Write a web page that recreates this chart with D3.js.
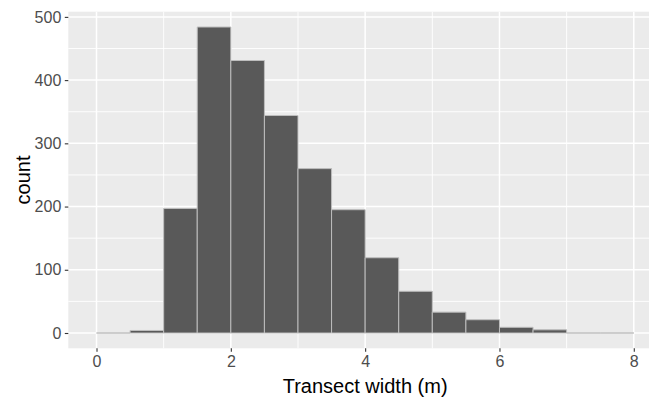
<!DOCTYPE html>
<html>
<head>
<meta charset="utf-8">
<script src="https://cdn.jsdelivr.net/npm/d3@7"></script>
<style>
  body { margin: 0; background: #fff; }
  svg { display: block; font-family: "Liberation Sans", Arial, sans-serif; }
</style>
</head>
<body>
<svg id="chart" width="649" height="398"></svg>
<script>
// histogram bins (left edges, width 0.5) and counts
const binStarts = [0, 0.5, 1, 1.5, 2, 2.5, 3, 3.5, 4, 4.5, 5, 5.5, 6, 6.5, 7, 7.5];
const counts = [0, 4, 197, 484, 431, 344, 260, 195, 119, 66, 33, 21, 9, 5, 0, 0];
const binWidth = 0.5;
const xTicks = [0, 2, 4, 6, 8];
const xMinor = [1, 3, 5, 7];
const yTicks = [0, 100, 200, 300, 400, 500];
const yMinor = [50, 150, 250, 350, 450];

const svg = d3.select('#chart');
const panel = {left: 68.3, right: 662, top: 11.7, bottom: 348.3};

const x = d3.scaleLinear().domain([-0.42, 8.42]).range([panel.left, panel.right]);
const y = d3.scaleLinear().domain([-24.2, 508.2]).range([panel.bottom, panel.top]);

svg.append('rect').attr('width', 649).attr('height', 398).attr('fill', '#fff');

svg.append('rect')
  .attr('x', panel.left).attr('y', panel.top)
  .attr('width', panel.right - panel.left)
  .attr('height', panel.bottom - panel.top)
  .attr('fill', '#EBEBEB');

const grid = svg.append('g').attr('stroke', '#fff');
grid.selectAll('.ymin').data(yMinor).enter().append('line')
  .attr('x1', panel.left).attr('x2', panel.right)
  .attr('y1', d => y(d)).attr('y2', d => y(d)).attr('stroke-width', 0.9);
grid.selectAll('.xmin').data(xMinor).enter().append('line')
  .attr('y1', panel.top).attr('y2', panel.bottom)
  .attr('x1', d => x(d)).attr('x2', d => x(d)).attr('stroke-width', 0.9);
grid.selectAll('.ymaj').data(yTicks).enter().append('line')
  .attr('x1', panel.left).attr('x2', panel.right)
  .attr('y1', d => y(d)).attr('y2', d => y(d)).attr('stroke-width', 1.5);
grid.selectAll('.xmaj').data(xTicks).enter().append('line')
  .attr('y1', panel.top).attr('y2', panel.bottom)
  .attr('x1', d => x(d)).attr('x2', d => x(d)).attr('stroke-width', 1.5);

// bars drawn as paths so that empty bins still show their outline on zero
const bins = binStarts.map((b, i) => ({x0: b, x1: b + binWidth, n: counts[i]}));
svg.append('g').selectAll('path').data(bins).enter().append('path')
  .attr('d', d => `M${x(d.x0)},${y(0)}V${y(d.n)}H${x(d.x1)}V${y(0)}Z`)
  .attr('fill', '#595959')
  .attr('stroke', '#BDBDBD')
  .attr('stroke-width', 1);

const xAxis = d3.axisBottom(x).tickValues(xTicks).tickSize(3.5).tickPadding(4).tickFormat(d3.format('d'));
const yAxis = d3.axisLeft(y).tickValues(yTicks).tickSize(3.5).tickPadding(3.5).tickFormat(d3.format('d'));

const gx = svg.append('g').attr('transform', `translate(0,${panel.bottom})`).call(xAxis);
const gy = svg.append('g').attr('transform', `translate(${panel.left},0)`).call(yAxis);
[gx, gy].forEach(g => {
  g.select('.domain').remove();
  g.selectAll('.tick line').attr('stroke', '#333333').attr('stroke-width', 1.1);
  g.selectAll('.tick text').attr('fill', '#4D4D4D').style('font-size', '16px')
    .style('font-family', '"Liberation Sans", Arial, sans-serif');
});

svg.append('text')
  .attr('x', (panel.left + panel.right) / 2).attr('y', 392.5)
  .attr('text-anchor', 'middle')
  .style('font-size', '20px').attr('fill', '#000')
  .text('Transect width (m)');

svg.append('text')
  .attr('transform', `translate(29.5,${(panel.top + panel.bottom) / 2}) rotate(-90)`)
  .attr('text-anchor', 'middle')
  .style('font-size', '20px').attr('fill', '#000')
  .text('count');
</script>
</body>
</html>
